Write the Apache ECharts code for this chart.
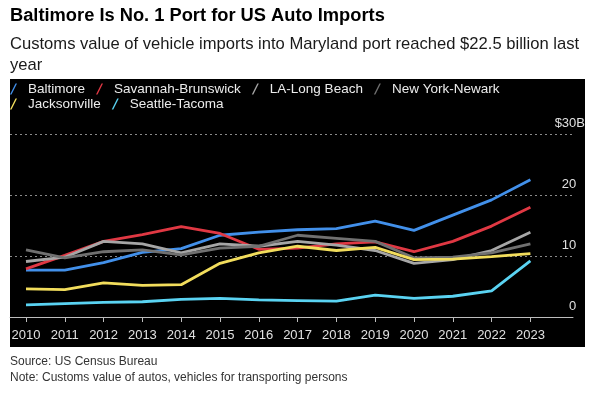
<!DOCTYPE html>
<html>
<head>
<meta charset="utf-8">
<script src="https://cdn.jsdelivr.net/npm/echarts@6/dist/echarts.min.js"></script>
<style>
html,body{margin:0;padding:0;background:#fff;}
#chart{width:600px;height:396px;}
</style>
</head>
<body>
<div id="chart"></div>
<script>
const years = [2010,2011,2012,2013,2014,2015,2016,2017,2018,2019,2020,2021,2022,2023];
const baltimore   = [7.7, 7.7, 8.9, 10.6, 11.2, 13.4, 13.9, 14.3, 14.5, 15.7, 14.2, 16.7, 19.2, 22.5];
const savannah    = [7.9, 10.1, 12.4, 13.5, 14.8, 13.7, 11.1, 11.3, 12.0, 12.3, 10.7, 12.4, 14.9, 18.0];
const laLongBeach = [9.1, 9.8, 12.4, 12.0, 10.5, 12.0, 11.6, 12.4, 11.8, 10.9, 8.8, 9.4, 10.9, 13.9];
const nyNewark    = [11.0, 9.7, 10.7, 11.0, 10.2, 11.3, 11.6, 13.4, 12.9, 12.4, 9.7, 9.8, 10.5, 12.0];
const jacksonville= [4.6, 4.5, 5.6, 5.2, 5.3, 8.8, 10.5, 11.6, 10.9, 11.4, 9.4, 9.5, 9.9, 10.4];
const seattle     = [2.0, 2.2, 2.4, 2.5, 2.9, 3.05, 2.8, 2.7, 2.6, 3.6, 3.05, 3.4, 4.3, 9.2];
const yTicks = [0, 10, 20, 30];
const seriesNames = ['Baltimore','Savannah-Brunswick','LA-Long Beach','New York-Newark','Jacksonville','Seattle-Tacoma'];
const seriesData = [baltimore, savannah, laLongBeach, nyNewark, jacksonville, seattle];
const colors = ['#4290ea','#e03843','#a6a6a6','#707070','#f2dd5c','#5ad3f2'];

const FONT = '"Liberation Sans", Arial, sans-serif';
const chart = echarts.init(document.getElementById('chart'), null, {renderer:'canvas'});
const slash = 'path://M0,11 L5.5,0 L7,0 L1.5,11 Z';
const legendBase = {
  left: 10, icon: slash, itemWidth: 7, itemHeight: 11, itemGap: 11, padding: 0,
  textStyle: {color:'#ececec', fontSize: 13.5, fontFamily: FONT, padding:[0,0,0,6]},
  selectedMode: false
};
chart.setOption({
  animation: false,
  backgroundColor: '#fff',
  color: colors,
  textStyle: {fontFamily: FONT},
  title: [{
    left: 10, top: 7, padding: 0, itemGap: 9,
    text: 'Baltimore Is No. 1 Port for US Auto Imports',
    textStyle: {fontSize: 18.3, fontWeight: 'bold', color: '#000', fontFamily: FONT},
    subtext: 'Customs value of vehicle imports into Maryland port reached $22.5 billion last\nyear',
    subtextStyle: {fontSize: 16.6, color: '#1a1a1a', lineHeight: 21, fontFamily: FONT}
  }],
  graphic: [
    {type:'rect', z: -10, shape:{x:10, y:79, width:575, height:268}, style:{fill:'#000'}},
    {type:'text', left: 10, top: 356, style:{text:'Source: US Census Bureau', fill:'#333', font:'12px "Liberation Sans", Arial, sans-serif'}},
    {type:'text', left: 10, top: 372, style:{text:'Note: Customs value of autos, vehicles for transporting persons', fill:'#333', font:'12px "Liberation Sans", Arial, sans-serif'}}
  ],
  legend: [
    Object.assign({}, legendBase, {top: 82, data: seriesNames.slice(0,4)}),
    Object.assign({}, legendBase, {top: 97, data: seriesNames.slice(4)})
  ],
  grid: {left: 10, right: 27, top: 134, bottom: 79},
  xAxis: {
    type: 'value', min: 2009.588, max: 2024.098,
    axisLine: {show: true, lineStyle: {color: '#bdbdbd', width: 1}},
    axisTick: {show: true, customValues: years, length: 5, lineStyle: {color: '#bdbdbd'}},
    axisLabel: {customValues: years, color: '#e0e0e0', fontSize: 13, margin: 12, formatter: v => String(v)},
    splitLine: {show: false}
  },
  yAxis: {
    type: 'value', position: 'right', min: 0, max: 30, interval: 10,
    axisLine: {show: false}, axisTick: {show: false},
    axisLabel: {
      customValues: yTicks,
      align: 'right', verticalAlign: 'bottom', margin: 12, padding: [0,0,4,0],
      formatter: v => v === 30 ? '{v|$30B}' : '{v|' + v + '}{h|B}',
      rich: {
        v: {color: '#e0e0e0', fontSize: 13, fontFamily: FONT},
        h: {color: 'rgba(0,0,0,0)', fontSize: 13, fontFamily: FONT}
      }
    },
    splitLine: {show: true, lineStyle: {color: '#8a8a8a', type: [2,3], width: 1}}
  },
  series: seriesNames.map((name, i) => ({
    name, type: 'line', showSymbol: false, symbol: 'none',
    lineStyle: {width: 2.8, color: colors[i]},
    itemStyle: {color: colors[i]},
    data: years.map((y, j) => [y, seriesData[i][j]])
  }))
});
</script>
</body>
</html>
